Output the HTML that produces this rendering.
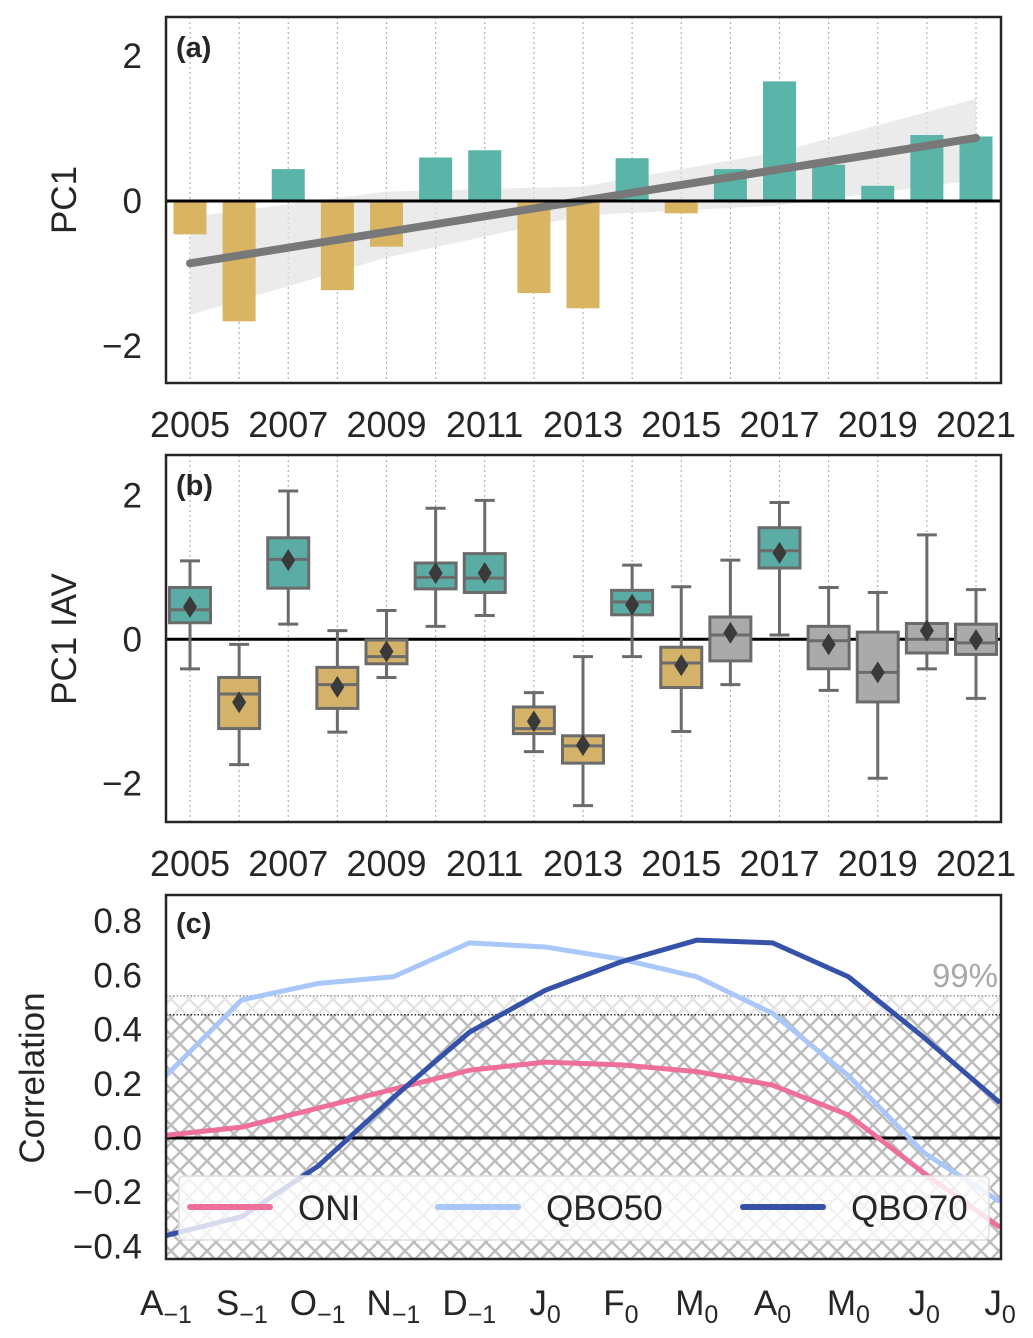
<!DOCTYPE html>
<html><head><meta charset="utf-8"><style>
body{margin:0;background:#fff;}
svg{display:block;font-family:"Liberation Sans","DejaVu Sans",sans-serif;}
</style></head><body>
<svg id="fig" width="1033" height="1338" viewBox="0 0 1033 1338" xmlns="http://www.w3.org/2000/svg">
<defs>
<pattern id="hatch" width="18" height="18" patternUnits="userSpaceOnUse">
<path d="M0,0 L18,18 M0,18 L18,0 M-2,2 L2,-2 M16,20 L20,16 M-2,16 L2,20 M16,-2 L20,2" stroke="#bdbdbd" stroke-width="2.4" fill="none"/>
</pattern>
<clipPath id="clipA"><rect x="166" y="17" width="835" height="366"/></clipPath>
<clipPath id="clipB"><rect x="166" y="455" width="835" height="367"/></clipPath>
<clipPath id="clipC"><rect x="166" y="895" width="835" height="364"/></clipPath>
</defs>
<g id="pa"></g>
<g id="pb"></g>
<g id="pc"></g>
</svg>
<script>
const years = [2005,2006,2007,2008,2009,2010,2011,2012,2013,2014,2015,2016,2017,2018,2019,2020,2021];
const pc1 = [-0.46,-1.66,0.44,-1.23,-0.63,0.60,0.70,-1.27,-1.48,0.59,-0.17,0.44,1.65,0.50,0.21,0.91,0.89];
const trendEnds = [-0.86, 0.87];
const ciUpperEnds = [-0.22, 1.41];
const ciLowerEnds = [-1.57, 0.29];
const yearTicks = [2005,2007,2009,2011,2013,2015,2017,2019,2021];
const aTicks = [-2,0,2];
const whiskTop = [1.09,-0.07,2.06,0.12,0.40,1.82,1.93,-0.74,-0.24,1.03,0.73,1.10,1.90,0.72,0.65,1.45,0.69];
const q3 = [0.72,-0.53,1.41,-0.39,-0.01,1.06,1.19,-0.94,-1.34,0.68,-0.11,0.31,1.55,0.18,0.10,0.22,0.21];
const med = [0.41,-0.76,1.11,-0.63,-0.24,0.86,0.85,-1.24,-1.48,0.52,-0.33,0.06,1.23,-0.02,-0.46,0.00,-0.05];
const q1 = [0.23,-1.24,0.71,-0.96,-0.34,0.70,0.65,-1.31,-1.72,0.34,-0.67,-0.30,0.99,-0.41,-0.87,-0.19,-0.21];
const whiskBot = [-0.41,-1.74,0.21,-1.29,-0.53,0.18,0.33,-1.56,-2.31,-0.24,-1.28,-0.63,0.06,-0.71,-1.93,-0.41,-0.82];
const meanV = [0.45,-0.875,1.10,-0.66,-0.17,0.92,0.92,-1.14,-1.47,0.48,-0.36,0.09,1.20,-0.07,-0.46,0.12,-0.01];
const boxCat = ['t','g','t','g','g','t','t','g','g','t','g','n','t','n','n','n','n'];
const months = ['A','S','O','N','D','J','F','M','A','M','J','J'];
const monthSub = ['\u22121','\u22121','\u22121','\u22121','\u22121','0','0','0','0','0','0','0'];
const oni = [0.01,0.04,0.11,0.18,0.25,0.28,0.27,0.245,0.195,0.085,-0.13,-0.33];
const qbo50 = [0.23,0.51,0.57,0.595,0.72,0.705,0.66,0.595,0.46,0.23,-0.055,-0.235];
const qbo70 = [-0.36,-0.29,-0.105,0.15,0.39,0.545,0.65,0.73,0.72,0.595,0.37,0.13];
const cTicks = [-0.4,-0.2,0.0,0.2,0.4,0.6,0.8];
const sig99 = 0.525, sig95 = 0.455;

const NS='http://www.w3.org/2000/svg';
function mk(parent, tag, attrs, text){const e=document.createElementNS(NS,tag);for(const k in attrs)e.setAttribute(k,attrs[k]);if(text!==undefined)e.textContent=text;parent.appendChild(e);return e;}
const xY = y => 190 + (y-2005)*49.125;
const yA = v => 201 - v*72.5;
const yB = v => 639.3 - v*72;
const xC = i => 166 + i*75.82;
const yC = v => 1138 - v*271;

function frame(g, top, bot){
  const r = mk(g,'rect',{x:166,y:top,width:835,height:bot-top,fill:'none',stroke:'#262626','stroke-width':2.5});
   
}
function vgrid(g, top, bot){
  years.forEach(y=>{const l=mk(g,'line',{x1:xY(y),x2:xY(y),y1:top,y2:bot,stroke:'#b0b0b0','stroke-width':1.2,'stroke-dasharray':'2,3'});
   });
}
function xYearTicks(g, ty){
  yearTicks.forEach(y=>{const t=mk(g,'text',{x:xY(y),y:ty,'font-size':36,'text-anchor':'middle',fill:'#262626'},String(y));
   });
}
function yLabel(g, cy, txt, x){
  const t=mk(g,'text',{x:x,y:cy,'font-size':35,'text-anchor':'middle',fill:'#262626',transform:`rotate(-90 ${x} ${cy})`},txt);
   
}
function fmt(v){return (v<0?'\u2212':'')+Math.abs(v);}

// ---- Panel A
const pa=document.getElementById('pa');
vgrid(pa,17,383);
const ca=mk(pa,'g',{'clip-path':'url(#clipA)'});
const band=mk(ca,'polygon',{points:`${xY(2005)},${yA(ciUpperEnds[0])} ${xY(2009)},${yA(0.13)} ${xY(2013)},${yA(0.2)} ${xY(2017)},${yA(0.68)} ${xY(2021)},${yA(ciUpperEnds[1])} ${xY(2021)},${yA(ciLowerEnds[1])} ${xY(2017)},${yA(-0.06)} ${xY(2013)},${yA(-0.2)} ${xY(2009)},${yA(-0.78)} ${xY(2005)},${yA(ciLowerEnds[0])}`,fill:'#e2e2e2','fill-opacity':0.7});
 
years.forEach((y,i)=>{const v=pc1[i];const r=mk(ca,'rect',{x:xY(y)-16.5,y:Math.min(yA(v),yA(0)),width:33,height:Math.abs(yA(v)-yA(0)),fill:v>=0?'#5ab4a8':'#d9b462'});
 });
const tl=mk(ca,'line',{x1:xY(2005),y1:yA(trendEnds[0]),x2:xY(2021),y2:yA(trendEnds[1]),stroke:'#787878','stroke-width':8,'stroke-linecap':'round'});
 
mk(pa,'line',{x1:166,x2:1001,y1:yA(0),y2:yA(0),stroke:'#000','stroke-width':3});
frame(pa,17,383);
aTicks.forEach(v=>{const t=mk(pa,'text',{x:142,y:yA(v)+12,'font-size':35,'text-anchor':'end',fill:'#262626'},fmt(v));
 });
xYearTicks(pa,437);
yLabel(pa,200,'PC1',76);
let lbl=mk(pa,'text',{x:176,y:57,'font-size':29,'font-weight':'bold',fill:'#262626'},'(a)');
 

// ---- Panel B
const pb=document.getElementById('pb');
vgrid(pb,455,822);
mk(pb,'line',{x1:166,x2:1001,y1:yB(0),y2:yB(0),stroke:'#000','stroke-width':3});
const cb=mk(pb,'g',{'clip-path':'url(#clipB)'});
const catCol={t:'#5aaca4',g:'#d4b26a',n:'#aaaaaa'};
years.forEach((y,i)=>{
  const g=mk(cb,'g',{});
   
  const x=xY(y), w=41;
  mk(g,'line',{x1:x,x2:x,y1:yB(whiskTop[i]),y2:yB(q3[i]),stroke:'#6b6b6b','stroke-width':3});
  mk(g,'line',{x1:x,x2:x,y1:yB(q1[i]),y2:yB(whiskBot[i]),stroke:'#6b6b6b','stroke-width':3});
  mk(g,'line',{x1:x-10,x2:x+10,y1:yB(whiskTop[i]),y2:yB(whiskTop[i]),stroke:'#6b6b6b','stroke-width':3});
  mk(g,'line',{x1:x-10,x2:x+10,y1:yB(whiskBot[i]),y2:yB(whiskBot[i]),stroke:'#6b6b6b','stroke-width':3});
  mk(g,'rect',{x:x-w/2,y:yB(q3[i]),width:w,height:yB(q1[i])-yB(q3[i]),fill:catCol[boxCat[i]],stroke:'#6b6b6b','stroke-width':3});
  mk(g,'line',{x1:x-w/2,x2:x+w/2,y1:yB(med[i]),y2:yB(med[i]),stroke:'#6b6b6b','stroke-width':3});
  const my=yB(meanV[i]);
  mk(g,'polygon',{points:`${x},${my-11} ${x+7},${my} ${x},${my+11} ${x-7},${my}`,fill:'#3a3a3a'});
});
frame(pb,455,822);
aTicks.forEach(v=>{const t=mk(pb,'text',{x:142,y:yB(v)+12,'font-size':35,'text-anchor':'end',fill:'#262626'},fmt(v));
 });
xYearTicks(pb,876);
yLabel(pb,639,'PC1 IAV',76);
lbl=mk(pb,'text',{x:176,y:495,'font-size':29,'font-weight':'bold',fill:'#262626'},'(b)');
 

// ---- Panel C
const pcg=document.getElementById('pc');
const cc=mk(pcg,'g',{'clip-path':'url(#clipC)'});
let h=mk(cc,'rect',{x:166,y:yC(sig99),width:835,height:1259-yC(sig99),fill:'url(#hatch)',opacity:0.4});
 
h=mk(cc,'rect',{x:166,y:yC(sig95),width:835,height:1259-yC(sig95),fill:'url(#hatch)',opacity:1});
 
let sl=mk(cc,'line',{x1:166,x2:1001,y1:yC(sig99),y2:yC(sig99),stroke:'#999','stroke-width':1.5,'stroke-dasharray':'1.5,2'});
 
sl=mk(cc,'line',{x1:166,x2:1001,y1:yC(sig95),y2:yC(sig95),stroke:'#333','stroke-width':1.5,'stroke-dasharray':'1.5,2'});
 
let t99=mk(pcg,'text',{x:998,y:987,'font-size':33,'text-anchor':'end',fill:'#a8a8a8'},'99%');
 
mk(cc,'line',{x1:166,x2:1001,y1:yC(0),y2:yC(0),stroke:'#000','stroke-width':3});
const series=[['oni',oni,'#ee7098'],['qbo50',qbo50,'#a9c7f9'],['qbo70',qbo70,'#3552a8']];
series.forEach(s=>{const p=mk(cc,'polyline',{points:s[1].map((v,i)=>`${xC(i)},${yC(v)}`).join(' '),fill:'none',stroke:s[2],'stroke-width':5,'stroke-linejoin':'round'});
 });
const lg=mk(pcg,'g',{});
 
mk(lg,'rect',{x:179,y:1176,width:810,height:64,rx:5,fill:'#fff','fill-opacity':0.8,stroke:'#dddddd','stroke-width':1.5});
const legNames=['ONI','QBO50','QBO70'];const legX=[190,438,743];
legNames.forEach((n,i)=>{const e=mk(lg,'g',{});
 
mk(e,'line',{x1:legX[i],x2:legX[i]+80,y1:1207,y2:1207,stroke:series[i][2],'stroke-width':6,'stroke-linecap':'round'});
mk(e,'text',{x:legX[i]+108,y:1220,'font-size':35,fill:'#262626'},n);});
frame(pcg,895,1259);
cTicks.forEach(v=>{const t=mk(pcg,'text',{x:142,y:yC(v)+12,'font-size':35,'text-anchor':'end',fill:'#262626'},(v<0?'\u2212':'')+Math.abs(v).toFixed(1));
 });
months.forEach((m,i)=>{const t=mk(pcg,'text',{x:xC(i),y:1315,'font-size':35,'text-anchor':'middle',fill:'#262626'});
 
mk(t,'tspan',{},m);mk(t,'tspan',{'font-size':25,dy:8},monthSub[i]);});
yLabel(pcg,1078,'Correlation',44);
lbl=mk(pcg,'text',{x:176,y:933,'font-size':29,'font-weight':'bold',fill:'#262626'},'(c)');
 
</script>
</body></html>
